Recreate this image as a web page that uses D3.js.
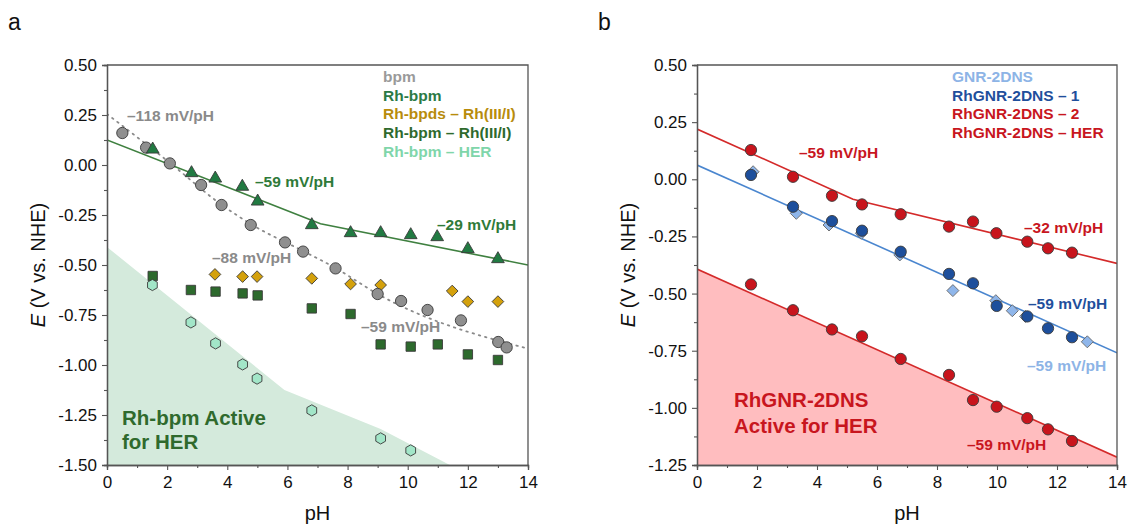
<!DOCTYPE html>
<html><head><meta charset="utf-8">
<script src="https://cdn.jsdelivr.net/npm/d3@7"></script>
<style>
html,body{margin:0;padding:0;background:#fff;}
svg{display:block;font-family:"Liberation Sans",Arial,Helvetica,sans-serif;}
</style></head>
<body>
<svg id="chart" width="1128" height="527"></svg>
<script>
// ---------- DATA ----------
const phTicks = [0, 2, 4, 6, 8, 10, 12, 14];
const phMinor = [1, 3, 5, 7, 9, 11, 13];
const yTicksA = [0.5, 0.25, 0, -0.25, -0.5, -0.75, -1, -1.25, -1.5];
const yTicksB = [0.5, 0.25, 0, -0.25, -0.5, -0.75, -1, -1.25];

// panel a
const bpmPH = [0.51, 1.30, 2.09, 3.13, 3.81, 4.78, 5.92, 6.52, 7.60, 9.00, 9.78, 10.66, 11.77, 13.01, 13.29];
const bpmE  = [0.16, 0.087, 0.008, -0.10, -0.20, -0.30, -0.387, -0.433, -0.517, -0.645, -0.68, -0.725, -0.777, -0.885, -0.912];
const rhbpmPH = [1.52, 2.81, 3.60, 4.50, 5.01, 6.81, 8.10, 9.10, 10.10, 10.98, 12.00, 13.00];
const rhbpmE  = [0.078, -0.04, -0.067, -0.108, -0.182, -0.30, -0.34, -0.34, -0.35, -0.36, -0.42, -0.47];
const bpdsPH = [3.59, 4.51, 4.99, 6.81, 8.10, 9.10, 11.48, 12.00, 13.00];
const bpdsE  = [-0.547, -0.558, -0.558, -0.567, -0.595, -0.60, -0.63, -0.683, -0.683];
const rh31PH = [1.52, 2.79, 3.61, 4.51, 5.01, 6.81, 8.10, 9.10, 10.10, 11.00, 12.00, 13.00];
const rh31E  = [-0.555, -0.625, -0.633, -0.642, -0.652, -0.717, -0.745, -0.897, -0.908, -0.897, -0.947, -0.975];
const herAPH = [1.51, 2.79, 3.61, 4.51, 4.99, 6.81, 9.10, 10.10];
const herAE  = [-0.60, -0.787, -0.892, -0.997, -1.068, -1.227, -1.367, -1.427];
// trend lines (vertices)
const bpmFitPH = [0, 2.08, 3.82, 4.78, 6.52, 7.60, 9.00, 14];
const bpmFitE  = [0.255, 0.012, -0.20, -0.295, -0.43, -0.515, -0.645, -0.918];
const rhbpmFitPH = [0, 7.1, 14];
const rhbpmFitE  = [0.125, -0.294, -0.50];
const herAreaPH = [0, 5.9, 9.1, 11.4];
const herAreaE  = [-0.41, -1.125, -1.32, -1.5];
const legendA = ["bpm", "Rh-bpm", "Rh-bpds – Rh(III/I)", "Rh-bpm – Rh(III/I)", "Rh-bpm – HER"];

// panel b
const gnrPH = [1.87, 3.31, 4.40, 5.48, 6.76, 8.53, 9.96, 10.51, 10.95, 13.01];
const gnrE  = [0.033, -0.149, -0.20, -0.236, -0.331, -0.487, -0.531, -0.575, -0.60, -0.711];
const rg1PH = [1.80, 3.20, 4.50, 5.50, 6.79, 8.40, 9.20, 9.99, 11.01, 11.70, 12.50];
const rg1E  = [0.019, -0.12, -0.183, -0.225, -0.317, -0.414, -0.455, -0.554, -0.60, -0.652, -0.691];
const rg2PH = [1.80, 3.20, 4.50, 5.50, 6.79, 8.40, 9.20, 9.98, 11.01, 11.70, 12.50];
const rg2E  = [0.128, 0.011, -0.072, -0.11, -0.153, -0.207, -0.185, -0.236, -0.273, -0.302, -0.321];
const herBPH = [1.80, 3.20, 4.50, 5.50, 6.79, 8.40, 9.20, 9.99, 11.01, 11.70, 12.50];
const herBE  = [-0.46, -0.573, -0.657, -0.687, -0.786, -0.856, -0.966, -0.995, -1.045, -1.094, -1.145];
const rg2FitPH = [0, 5.2, 14];
const rg2FitE  = [0.22, -0.087, -0.368];
const rg1FitPH = [0, 14];
const rg1FitE  = [0.0625, -0.759];
const herBFitPH = [0, 14];
const herBFitE  = [-0.3925, -1.216];
const legendB = ["GNR-2DNS", "RhGNR-2DNS – 1", "RhGNR-2DNS – 2", "RhGNR-2DNS – HER"];

// ---------- DRAW ----------
const svg = d3.select("#chart");
const zip = (a, b) => a.map((v, i) => [v, b[i]]);
const AX = "#555";

// custom symbols
const symHex = { draw(ctx, size) { const r = Math.sqrt(size / 2.598);
  for (let i = 0; i < 6; i++) { const a = Math.PI / 6 + i * Math.PI / 3;
    const x = r * Math.cos(a), y = r * Math.sin(a); i ? ctx.lineTo(x, y) : ctx.moveTo(x, y); } ctx.closePath(); } };
const symDia = { draw(ctx, size) { const r = Math.sqrt(size / 2);
  ctx.moveTo(0, -r); ctx.lineTo(r, 0); ctx.lineTo(0, r); ctx.lineTo(-r, 0); ctx.closePath(); } };

function panel(cfg) {
  const x = d3.scaleLinear().domain([0, 14]).range([cfg.x0, cfg.x1]);
  const y = d3.scaleLinear().domain(cfg.ydom).range([465, 65]);
  const g = svg.append("g");
  const clipId = "clip" + cfg.id;
  svg.append("clipPath").attr("id", clipId).append("rect")
    .attr("x", cfg.x0).attr("y", 65).attr("width", cfg.x1 - cfg.x0).attr("height", 400);
  const plot = g.append("g").attr("clip-path", `url(#${clipId})`);
  cfg.draw(plot, x, y);

  // frame
  g.append("path").attr("d", `M${cfg.x0},65H${cfg.x1}V465`).attr("fill", "none")
    .attr("stroke", AX).attr("stroke-width", 1.3);

  // axes
  const fmt = d => d3.format(".2f")(d).replace("−", "-");
  const ya = g.append("g").attr("transform", `translate(${cfg.x0},0)`)
    .call(d3.axisLeft(y).tickValues(cfg.yticks).tickSize(5).tickPadding(5).tickFormat(fmt));
  const minorY = d3.range(cfg.ydom[0], cfg.ydom[1], 0.125).filter(v => Math.abs((v / 0.25) - Math.round(v / 0.25)) > 0.01);
  g.append("g").attr("transform", `translate(${cfg.x0},0)`)
    .call(d3.axisLeft(y).tickValues(minorY).tickSize(3).tickFormat(""));
  const xa = g.append("g").attr("transform", `translate(0,465)`)
    .call(d3.axisBottom(x).tickValues(phTicks).tickSize(5).tickPadding(6).tickFormat(d3.format("d")));
  g.append("g").attr("transform", `translate(0,465)`)
    .call(d3.axisBottom(x).tickValues(phMinor).tickSize(3).tickFormat(""));
  g.selectAll(".domain").attr("stroke", AX).attr("stroke-width", 1.3);
  g.selectAll(".tick line").attr("stroke", AX).attr("stroke-width", 1.1);
  g.selectAll(".tick text").attr("font-size", 17).attr("fill", "#111")
    .attr("font-family", '"Liberation Sans",Arial,sans-serif');

  // axis titles
  g.append("text").attr("x", (cfg.x0 + cfg.x1) / 2).attr("y", 520).attr("text-anchor", "middle")
    .attr("font-size", 20).attr("fill", "#111").text("pH");
  const yt = g.append("text").attr("transform", `translate(${cfg.x0 - 62},265) rotate(-90)`)
    .attr("text-anchor", "middle").attr("font-size", 20).attr("fill", "#111");
  yt.append("tspan").attr("font-style", "italic").text("E");
  yt.append("tspan").text(" (V vs. NHE)");
  svg.append("text").attr("x", cfg.x0 - 99).attr("y", 30).attr("font-size", 23).attr("fill", "#111").text(cfg.id);

  // legend
  cfg.legend.forEach((t, i) => {
    g.append("text").attr("x", cfg.legX).attr("y", 82 + i * 18.7).attr("font-size", 15.5)
      .attr("font-weight", "bold").attr("fill", cfg.legColors[i]).text(t);
  });
  cfg.labels.forEach(l => {
    const t = g.append("text").attr("font-weight", "bold").attr("font-size", l.size || 15.5).attr("fill", l.c);
    l.t.forEach((s, i) => t.append("tspan").attr("x", l.x).attr("y", l.y + i * (l.lh || 0)).text(s));
  });
  return { x, y, g };
}

function pts(sel, x, y, px, py, type, size, fill, stroke) {
  sel.append("g").selectAll("path").data(zip(px, py)).join("path")
    .attr("transform", d => `translate(${x(d[0])},${y(d[1])})`)
    .attr("d", d3.symbol().type(type).size(size))
    .attr("fill", fill).attr("stroke", stroke || "#3a3a3a").attr("stroke-width", 0.9);
}

// ----- Panel a -----
panel({
  id: "a", x0: 107, x1: 528, ydom: [-1.5, 0.5], yticks: yTicksA,
  legend: legendA, legX: 383,
  legColors: ["#9a9a9a", "#2b7a45", "#b88c0c", "#2f6a2d", "#7fd6aa"],
  labels: [
    { x: 127, y: 121, c: "#8a8a8a", t: ["–118 mV/pH"] },
    { x: 255, y: 187, c: "#2f7a39", t: ["–59 mV/pH"] },
    { x: 437, y: 230, c: "#2f7a39", t: ["–29 mV/pH"] },
    { x: 212, y: 263, c: "#8a8a8a", t: ["–88 mV/pH"] },
    { x: 361, y: 332, c: "#8a8a8a", t: ["–59 mV/pH"] },
    { x: 122, y: 425, c: "#2f6a2d", size: 20.5, lh: 24, t: ["Rh-bpm Active", "for HER"] }
  ],
  draw: (p, x, y) => {
    const area = zip(herAreaPH, herAreaE);
    area.push([0, -1.5]);
    p.append("path").attr("d", d3.line().x(d => x(d[0])).y(d => y(d[1]))(area) + "Z")
      .attr("fill", "#d4eadc").attr("stroke", "none");
    p.append("path").attr("d", d3.line().x(d => x(d[0])).y(d => y(d[1])).curve(d3.curveMonotoneX)(zip(bpmFitPH, bpmFitE)))
      .attr("fill", "none").attr("stroke", "#8a8a8a").attr("stroke-width", 1.8).attr("stroke-dasharray", "1.5,5").attr("stroke-linecap", "round");
    p.append("path").attr("d", d3.line().x(d => x(d[0])).y(d => y(d[1]))(zip(rhbpmFitPH, rhbpmFitE)))
      .attr("fill", "none").attr("stroke", "#3f8040").attr("stroke-width", 1.6);
    pts(p, x, y, rh31PH, rh31E, d3.symbolSquare, 88, "#2d6a2d");
    pts(p, x, y, bpdsPH, bpdsE, symDia, 68, "#d4a10c");
    pts(p, x, y, bpmPH, bpmE, d3.symbolCircle, 100, "#8f8f8f");
    pts(p, x, y, rhbpmPH, rhbpmE, d3.symbolTriangle, 70, "#217a42");
    pts(p, x, y, herAPH, herAE, symHex, 82, "#a2e6c8");
  }
});

// ----- Panel b -----
panel({
  id: "b", x0: 697, x1: 1117, ydom: [-1.25, 0.5], yticks: yTicksB,
  legend: legendB, legX: 952,
  legColors: ["#8db4e6", "#1f4f9c", "#c8161e", "#c8161e"],
  labels: [
    { x: 799, y: 158, c: "#c8161e", t: ["–59 mV/pH"] },
    { x: 1024, y: 233, c: "#c8161e", t: ["–32 mV/pH"] },
    { x: 1028, y: 309, c: "#1f4f9c", t: ["–59 mV/pH"] },
    { x: 1027, y: 371, c: "#8db4e6", t: ["–59 mV/pH"] },
    { x: 967, y: 450, c: "#c8161e", t: ["–59 mV/pH"] },
    { x: 734, y: 407, c: "#c8161e", size: 20.5, lh: 25.5, t: ["RhGNR-2DNS", "Active for HER"] }
  ],
  draw: (p, x, y) => {
    const L = d3.line().x(d => x(d[0])).y(d => y(d[1]));
    const area = zip(herBFitPH, herBFitE);
    area.push([14, -1.25], [0, -1.25]);
    p.append("path").attr("d", L(area) + "Z").attr("fill", "#ffbdbf");
    p.append("path").attr("d", L(zip(rg2FitPH, rg2FitE))).attr("fill", "none").attr("stroke", "#d42a2a").attr("stroke-width", 1.6);
    p.append("path").attr("d", L(zip(rg1FitPH, rg1FitE))).attr("fill", "none").attr("stroke", "#4a86cf").attr("stroke-width", 1.6);
    p.append("path").attr("d", L(zip(herBFitPH, herBFitE))).attr("fill", "none").attr("stroke", "#d42a2a").attr("stroke-width", 1.6);
    pts(p, x, y, gnrPH, gnrE, symDia, 72, "#8fb6ea", "#666");
    pts(p, x, y, rg1PH, rg1E, d3.symbolCircle, 100, "#1d4f9c");
    pts(p, x, y, rg2PH, rg2E, d3.symbolCircle, 100, "#c8141c");
    pts(p, x, y, herBPH, herBE, d3.symbolCircle, 100, "#c8141c");
  }
});
</script>
</body></html>
